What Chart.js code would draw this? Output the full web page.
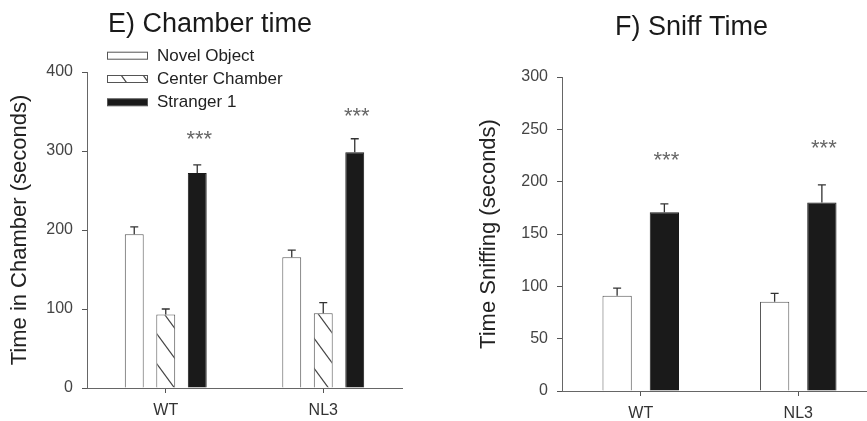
<!DOCTYPE html>
<html><head><meta charset="utf-8">
<script src="https://cdn.jsdelivr.net/npm/chart.js@4.4.1/dist/chart.umd.min.js"></script>
<style>
html,body{margin:0;padding:0;background:#fff;overflow:hidden;width:867px;height:421px;}
#c1{position:absolute;left:0;top:0;}
#c2{position:absolute;left:430px;top:0;}
</style></head><body>
<canvas id="c1" width="430" height="421"></canvas>
<canvas id="c2" width="450" height="421"></canvas>
<script>
// ---------- data ----------
const groups = ['WT', 'NL3'];
const chamberSeries = ['Novel Object', 'Center Chamber', 'Stranger 1'];
const chamberNovel = [194.5, 165.5];
const chamberNovelSem = [9.5, 9];
const chamberCenter = [93, 94.5];
const chamberCenterSem = [7, 13.5];
const chamberStranger = [272, 298.5];
const chamberStrangerSem = [10.5, 17];
const chamberStars = [322, 351];
const chamberTickValues = [0, 100, 200, 300, 400];

const sniffSeries = ['Novel Object', 'Stranger 1'];
const sniffNovel = [91, 85.3];
const sniffNovelSem = [7.3, 8];
const sniffStranger = [170.7, 180];
const sniffStrangerSem = [8, 17];
const sniffStars = [226, 237];
const sniffTickValues = [0, 50, 100, 150, 200, 250, 300];

const chamberTitle = 'E) Chamber time';
const chamberYTitle = 'Time in Chamber (seconds)';
const sniffTitle = 'F) Sniff Time';
const sniffYTitle = 'Time Sniffing (seconds)';
const starText = '***';

// ---------- styles ----------
const FONT = "'Liberation Sans', Arial, sans-serif";
const BLACK = '#1a1a1a';
const EDGE = '#555';

function makeHatch() {
  const w = 22, h = 30;
  const t = document.createElement('canvas');
  t.width = w; t.height = h;
  const g = t.getContext('2d');
  g.fillStyle = '#fff'; g.fillRect(0, 0, w, h);
  g.strokeStyle = '#444'; g.lineWidth = 1.2;
  for (const dx of [-w, 0, w]) {
    g.beginPath();
    g.moveTo(dx - 4, -4 * h / w);
    g.lineTo(dx + w + 4, h + 4 * h / w);
    g.stroke();
  }
  return g.createPattern(t, 'repeat');
}
const hatch = makeHatch();

const decor = {
  id: 'decor',
  afterDatasetsDraw(chart, args, o) {
    const ctx = chart.ctx;
    const ys = chart.scales.y;
    ctx.save();
    // error bars
    ctx.strokeStyle = '#333';
    ctx.lineWidth = 1.3;
    o.sems.forEach((sem, di) => {
      const meta = chart.getDatasetMeta(di);
      const vals = chart.data.datasets[di].data;
      meta.data.forEach((bar, j) => {
        const yTop = bar.y;
        const yE = ys.getPixelForValue(vals[j] + sem[j]);
        ctx.beginPath();
        ctx.moveTo(bar.x, yTop);
        ctx.lineTo(bar.x, yE);
        ctx.moveTo(bar.x - 4, yE);
        ctx.lineTo(bar.x + 4, yE);
        ctx.stroke();
      });
    });
    // stars
    ctx.fillStyle = '#666';
    ctx.font = '22px ' + FONT;
    ctx.textAlign = 'center';
    ctx.textBaseline = 'alphabetic';
    const sm = chart.getDatasetMeta(o.starDataset);
    o.stars.forEach((v, j) => {
      ctx.fillText(starText, sm.data[j].x + 2, ys.getPixelForValue(v) + 12.5);
    });
    // title
    ctx.fillStyle = '#1a1a1a';
    ctx.font = '27px ' + FONT;
    ctx.textAlign = 'left';
    ctx.fillText(o.title, o.titleX, o.titleY);
    // legend
    if (o.legend) {
      const rows = [55.7, 79, 102.3];
      chart.data.datasets.forEach((ds, i) => {
        const cy = rows[i];
        ctx.fillStyle = ds.backgroundColor;
        ctx.fillRect(107, cy - 3.5, 41, 7);
        ctx.strokeStyle = EDGE;
        ctx.lineWidth = 1;
        ctx.strokeRect(107.5, cy - 3.5, 40, 7);
        ctx.fillStyle = '#222';
        ctx.font = '17px ' + FONT;
        ctx.textBaseline = 'middle';
        ctx.fillText(ds.label, 157, cy + 0.5);
        ctx.textBaseline = 'alphabetic';
      });
    }
    ctx.restore();
  }
};

function scales(ticks, yTitle, yWidth, xHeight, titlePad) {
  return {
    x: {
      grid: { display: true, drawOnChartArea: false, drawTicks: true, tickLength: 5, offset: false, color: EDGE, lineWidth: 1 },
      border: { display: true, color: '#666', width: 1 },
      ticks: { color: '#333', font: { family: FONT, size: 16 }, padding: 8 },
      afterFit: s => { s.height = xHeight; }
    },
    y: {
      min: ticks[0], max: ticks[ticks.length - 1],
      afterBuildTicks: s => { s.ticks = ticks.map(v => ({ value: v })); },
      grid: { display: true, drawOnChartArea: false, drawTicks: true, tickLength: 5, color: EDGE, lineWidth: 1 },
      border: { display: true, color: '#666', width: 1 },
      ticks: { color: '#444', font: { family: FONT, size: 16 }, padding: 9 },
      title: { display: true, text: yTitle, color: '#222', font: { family: FONT, size: 22 }, padding: { top: titlePad, bottom: 0 } },
      afterFit: s => { s.width = yWidth; }
    }
  };
}

new Chart(document.getElementById('c1'), {
  type: 'bar',
  data: {
    labels: groups,
    datasets: [
      { label: chamberSeries[0], data: chamberNovel, backgroundColor: '#ffffff', borderColor: EDGE, borderWidth: 1 },
      { label: chamberSeries[1], data: chamberCenter, backgroundColor: hatch, borderColor: EDGE, borderWidth: 1 },
      { label: chamberSeries[2], data: chamberStranger, backgroundColor: BLACK, borderColor: BLACK, borderWidth: 1 }
    ]
  },
  options: {
    responsive: false, animation: false, devicePixelRatio: 1,
    categoryPercentage: 0.6, barPercentage: 0.6,
    layout: { padding: { left: 0, right: 28, top: 72, bottom: 0 } },
    plugins: {
      legend: { display: false }, title: { display: false }, tooltip: { enabled: false },
      decor: { sems: [chamberNovelSem, chamberCenterSem, chamberStrangerSem], stars: chamberStars, starDataset: 2,
               title: chamberTitle, titleX: 108, titleY: 31.5, legend: true }
    },
    scales: scales(chamberTickValues, chamberYTitle, 87, 33, 7)
  },
  plugins: [decor]
});

new Chart(document.getElementById('c2'), {
  type: 'bar',
  data: {
    labels: groups,
    datasets: [
      { label: sniffSeries[0], data: sniffNovel, backgroundColor: '#ffffff', borderColor: EDGE, borderWidth: 1 },
      { label: sniffSeries[1], data: sniffStranger, backgroundColor: BLACK, borderColor: BLACK, borderWidth: 1 }
    ]
  },
  options: {
    responsive: false, animation: false, devicePixelRatio: 1,
    categoryPercentage: 0.6, barPercentage: 0.62,
    layout: { padding: { left: 0, right: 3, top: 77, bottom: 0 } },
    plugins: {
      legend: { display: false }, title: { display: false }, tooltip: { enabled: false },
      decor: { sems: [sniffNovelSem, sniffStrangerSem], stars: sniffStars, starDataset: 1,
               title: sniffTitle, titleX: 185, titleY: 35, legend: false }
    },
    scales: scales(sniffTickValues, sniffYTitle, 132, 30, 46)
  },
  plugins: [decor]
});
</script>
</body></html>
